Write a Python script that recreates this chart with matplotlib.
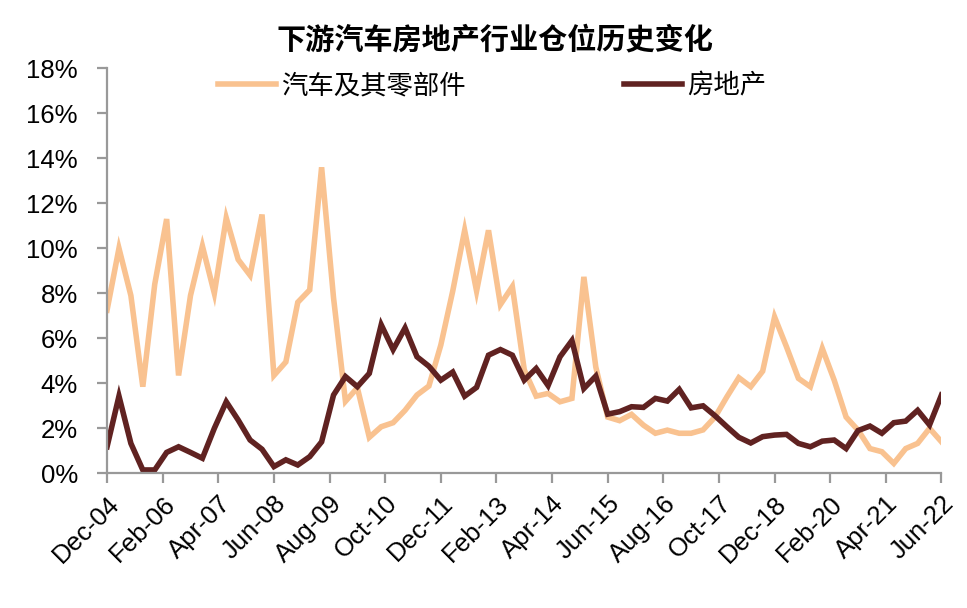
import numpy as np
from matplotlib import pyplot as plt

plt.rcParams['font.family'] = ['Liberation Sans', 'Noto Sans CJK SC']

# quarterly data, Dec-04 .. Jun-22 (%)
auto = [7.25, 10.0, 7.9, 3.85, 8.4, 11.3, 4.35, 7.9, 10.1, 8.0,
        11.35, 9.5, 8.8, 11.5, 4.35, 4.95, 7.6, 8.15, 13.6, 7.8,
        3.2, 3.8, 1.6, 2.07, 2.25, 2.8, 3.48, 3.88, 5.7, 8.1,
        10.8, 8.1, 10.8, 7.5, 8.3, 4.6, 3.43, 3.55, 3.18, 3.33,
        8.73, 4.73, 2.5, 2.34, 2.62, 2.14, 1.78, 1.92, 1.78, 1.78,
        1.93, 2.5, 3.4, 4.25, 3.85, 4.54, 6.95, 5.62, 4.22, 3.85,
        5.55, 4.14, 2.5, 1.92, 1.1, 0.96, 0.44, 1.1, 1.33, 2.0, 1.4]
estate = [1.18, 3.43, 1.33, 0.15, 0.15, 0.93, 1.18, 0.93, 0.67, 2.0,
          3.18, 2.37, 1.48, 1.07, 0.3, 0.6, 0.37, 0.74, 1.4, 3.48,
          4.3, 3.85, 4.44, 6.6, 5.5, 6.46, 5.18, 4.76, 4.14, 4.5,
          3.43, 3.82, 5.25, 5.5, 5.25, 4.14, 4.66, 3.9, 5.18, 5.9,
          3.77, 4.32, 2.63, 2.74, 2.96, 2.93, 3.33, 3.21, 3.73, 2.91,
          3.0, 2.56, 2.07, 1.6, 1.35, 1.63, 1.7, 1.73, 1.33, 1.18,
          1.43, 1.48, 1.1, 1.9, 2.1, 1.78, 2.25, 2.32, 2.8, 2.15, 3.48]
tick_labels = ['Dec-04', 'Feb-06', 'Apr-07', 'Jun-08', 'Aug-09', 'Oct-10',
               'Dec-11', 'Feb-13', 'Apr-14', 'Jun-15', 'Aug-16', 'Oct-17',
               'Dec-18', 'Feb-20', 'Apr-21', 'Jun-22']

months = np.arange(len(auto)) * 3          # months since Dec-04
tick_pos = np.arange(len(tick_labels)) * 14

fig = plt.figure(figsize=(9.67, 6.08), dpi=100)
ax = fig.add_axes([0.1107, 0.2215, 0.9736 - 0.1107, 0.8877 - 0.2215])

l1, = ax.plot(months, auto, color='#F9C290', lw=4, solid_joinstyle='miter',
              label='汽车及其零部件')
l2, = ax.plot(months, estate, color='#602221', lw=4, solid_joinstyle='miter',
              label='房地产')

ax.set_xlim(0, 210)
ax.set_ylim(0, 18)
ax.set_yticks(np.arange(0, 19, 2))
ax.set_yticklabels(['{}%'.format(v) for v in range(0, 19, 2)], fontsize=18.5)
ax.set_xticks(tick_pos)
ax.set_xticklabels(tick_labels, fontsize=18.5, rotation=45, ha='right',
                   rotation_mode='anchor')

for s in ['top', 'right']:
    ax.spines[s].set_visible(False)
for s in ['left', 'bottom']:
    ax.spines[s].set_color('#999999')
    ax.spines[s].set_linewidth(1.6)
ax.tick_params(axis='both', color='#999999', width=1.6, length=7, pad=6)
ax.tick_params(axis='y', pad=14)

fig.text(495 / 967, 1 - 40 / 608, '下游汽车房地产行业仓位历史变化',
         fontsize=21, fontweight='bold', ha='center', va='center')

fig.legend(handles=[l1, l2], loc='center left',
           bbox_to_anchor=(218 / 967, 1 - 86 / 608), ncol=2, frameon=False,
           fontsize=19, handlelength=2.2, handletextpad=0.2,
           columnspacing=6.0, borderpad=0, borderaxespad=0)

plt.savefig('out.png', dpi=100)
